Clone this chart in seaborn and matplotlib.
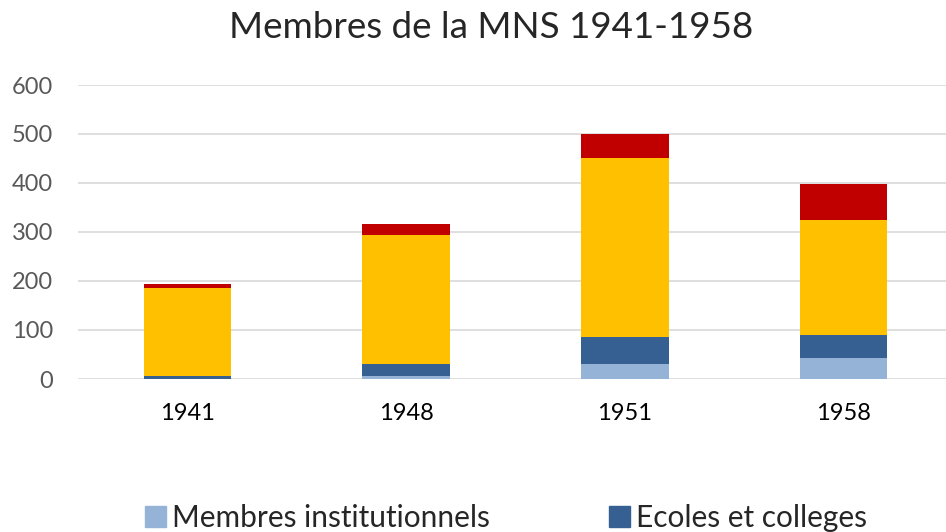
import matplotlib
matplotlib.use("Agg")
import matplotlib.pyplot as plt
from matplotlib.patches import Patch
import pandas as pd
import seaborn as sns

years = ["1941", "1948", "1951", "1958"]
membres_institutionnels = [1, 7, 31, 42]
ecoles_colleges = [5, 24, 55, 47]
serie_jaune = [180, 263, 366, 235]
serie_rouge = [8, 22, 47, 74]

colors = ["#95B3D7", "#376092", "#FFC000", "#C00000"]

df = pd.DataFrame({
    "year": years,
    "inst": membres_institutionnels,
    "ecoles": ecoles_colleges,
    "jaune": serie_jaune,
    "rouge": serie_rouge,
})
# cumulative heights, drawn from the tallest down so they stack
df["c1"] = df["inst"]
df["c2"] = df["c1"] + df["ecoles"]
df["c3"] = df["c2"] + df["jaune"]
df["c4"] = df["c3"] + df["rouge"]

sns.set_style("white")
plt.rcParams["font.family"] = ["Lato", "DejaVu Sans"]

fig = plt.figure(figsize=(9.46, 5.32), dpi=100)
ax = fig.add_axes([78 / 946, 1 - 379 / 532, 875 / 946, 294 / 532])

for col, c in zip(["c4", "c3", "c2", "c1"], colors[::-1]):
    sns.barplot(data=df, x="year", y=col, color=c, width=0.4,
                saturation=1, ax=ax, edgecolor="none", linewidth=0)

ax.set_ylim(0, 600)
ax.set_xlim(-0.5, 3.5)
ax.set_yticks(range(0, 601, 100))
ax.yaxis.grid(True, color="#D9D9D9", linewidth=1.2)
ax.set_axisbelow(True)
for s in ax.spines.values():
    s.set_visible(False)
ax.set_xlabel("")
ax.set_ylabel("")
ax.tick_params(axis="y", labelsize=17, labelcolor="#595959", length=0, pad=18)
ax.tick_params(axis="x", labelsize=17, labelcolor="black", length=0, pad=17)

fig.suptitle("Membres de la MNS 1941-1958", fontsize=26.5, y=0.98, x=0.519)

handles = [Patch(color=colors[0], label="Membres institutionnels"),
           Patch(color=colors[1], label="Ecoles et colleges")]
fig.legend(handles=handles, loc="center left", bbox_to_anchor=(0.125, 0.026),
           ncol=2, frameon=False, fontsize=21.5, handlelength=0.7,
           handleheight=0.7, handletextpad=0.2, columnspacing=4.0)

fig.savefig("out.png", dpi=100)
